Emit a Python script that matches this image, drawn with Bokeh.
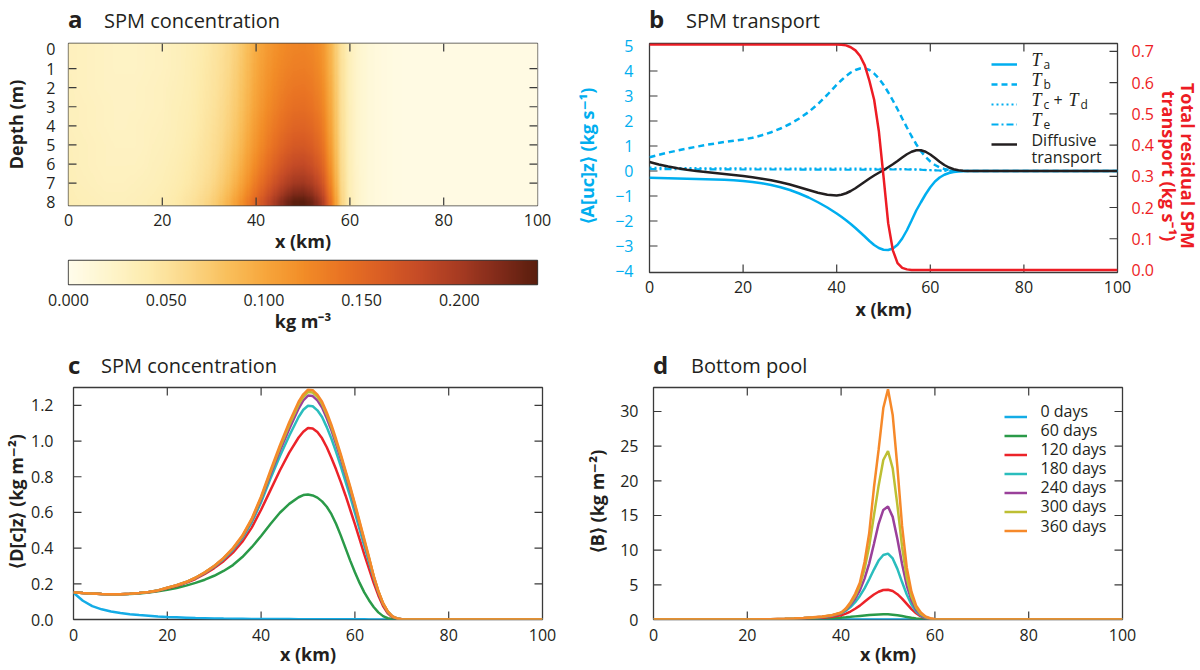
import numpy as np
from bokeh.plotting import figure
from bokeh.models import (LinearAxis, Range1d, FixedTicker, Label, Legend, LegendItem,
                          LinearColorMapper, NumeralTickFormatter, Div)
from bokeh.layouts import column, row
from bokeh.embed import file_html
from bokeh.resources import INLINE

# ---------------------------------------------------------------- data
# (a) SPM concentration field, kg m-3, rows = depth 0..8 m, columns = x 0..100 km step 2
heat_x = [0, 2, 4, 6, 8, 10, 12, 14, 16, 18, 20, 22, 24, 26, 28, 30, 32, 34, 36, 38, 40,
          42, 44, 46, 48, 50, 52, 54, 56, 58, 60, 62, 64, 66, 68, 70, 72, 74, 76, 78, 80,
          82, 84, 86, 88, 90, 92, 94, 96, 98, 100]
heat_depth = [0, 1, 2, 3, 4, 5, 6, 7, 8]
spm_d0 = [.030, .029, .028, .027, .026, .025, .025, .025, .026, .027, .028, .030, .032, .035, .039, .044,
          .050, .058, .068, .082, .097, .108, .117, .123, .127, .128, .125, .115, .088, .052, .030, .018,
          .012, .009, .007, .006, .005, .005, .005, .005, .005, .005, .005, .005, .005, .005, .005, .005,
          .005, .005, .005]
spm_d1 = [.030, .029, .028, .027, .026, .025, .025, .025, .026, .027, .028, .030, .032, .036, .040, .045,
          .051, .059, .070, .084, .099, .111, .120, .127, .131, .132, .129, .118, .090, .053, .030, .018,
          .012, .009, .007, .006, .005, .005, .005, .005, .005, .005, .005, .005, .005, .005, .005, .005,
          .005, .005, .005]
spm_d2 = [.031, .029, .028, .027, .026, .026, .026, .026, .027, .028, .029, .031, .033, .036, .041, .046,
          .052, .061, .072, .086, .102, .114, .124, .132, .137, .138, .134, .123, .093, .054, .030, .018,
          .012, .009, .007, .006, .005, .005, .005, .005, .005, .005, .005, .005, .005, .005, .005, .005,
          .005, .005, .005]
spm_d3 = [.031, .030, .029, .028, .027, .026, .026, .026, .027, .028, .029, .032, .034, .037, .042, .047,
          .054, .063, .074, .089, .105, .118, .129, .138, .144, .145, .140, .128, .096, .055, .031, .018,
          .012, .009, .007, .006, .005, .005, .005, .005, .005, .005, .005, .005, .005, .005, .005, .005,
          .005, .005, .005]
spm_d4 = [.031, .030, .029, .028, .027, .026, .026, .027, .028, .029, .030, .032, .035, .038, .043, .049,
          .056, .065, .077, .093, .110, .124, .136, .146, .153, .154, .149, .135, .100, .056, .031, .018,
          .012, .009, .007, .006, .005, .005, .005, .005, .005, .005, .005, .005, .005, .005, .005, .005,
          .005, .005, .005]
spm_d5 = [.032, .031, .030, .029, .028, .027, .027, .027, .028, .030, .031, .033, .036, .040, .045, .051,
          .058, .069, .081, .098, .115, .130, .144, .156, .164, .165, .159, .143, .105, .058, .031, .018,
          .012, .009, .007, .006, .005, .005, .005, .005, .005, .005, .005, .005, .005, .005, .005, .005,
          .005, .005, .005]
spm_d6 = [.033, .031, .030, .029, .028, .028, .028, .028, .029, .031, .032, .035, .038, .042, .047, .053,
          .062, .073, .087, .105, .123, .140, .156, .170, .179, .181, .173, .155, .112, .060, .032, .018,
          .012, .009, .007, .006, .005, .005, .005, .005, .005, .005, .005, .005, .005, .005, .005, .005,
          .005, .005, .005]
spm_d7 = [.034, .032, .031, .030, .029, .029, .029, .030, .031, .032, .034, .037, .040, .044, .050, .057,
          .067, .079, .095, .114, .135, .154, .173, .189, .201, .203, .194, .172, .122, .063, .033, .019,
          .012, .009, .007, .006, .005, .005, .005, .005, .005, .005, .005, .005, .005, .005, .005, .005,
          .005, .005, .005]
spm_d8 = [.036, .034, .033, .032, .031, .031, .031, .032, .033, .035, .037, .040, .044, .049, .056, .064,
          .075, .090, .108, .130, .153, .176, .200, .222, .238, .240, .228, .200, .138, .068, .034, .019,
          .012, .009, .007, .006, .005, .005, .005, .005, .005, .005, .005, .005, .005, .005, .005, .005,
          .005, .005, .005]
colorbar_ticks = [0.0, 0.05, 0.10, 0.15, 0.20]

# (b) SPM transport, kg s-1
xb = [0, 2, 4, 6, 8, 10, 12, 14, 16, 18, 20, 22, 24, 26, 28, 30, 32, 34, 36, 38, 40,
      41, 42, 43, 44, 45, 46, 47, 48, 49, 50, 51, 52, 53, 54, 55, 56, 57, 58, 59, 60,
      61, 62, 63, 64, 65, 66, 67, 68, 69, 70, 72, 75, 80, 85, 90, 95, 100]
T_a = [-0.27, -0.28, -0.29, -0.30, -0.31, -0.32, -0.33, -0.34, -0.35, -0.37, -0.40, -0.44, -0.49,
       -0.56, -0.65, -0.76, -0.90, -1.06, -1.25, -1.46, -1.70,
       -1.83, -1.97, -2.12, -2.28, -2.45, -2.62, -2.80, -2.96, -3.08, -3.15,
       -3.16, -3.10, -2.95, -2.70, -2.37, -1.98, -1.58, -1.25, -0.93, -0.65,
       -0.42, -0.26, -0.15, -0.08, -0.04, -0.02, -0.01, -0.004, 0.0, 0.0,
       0.0, 0.0, 0.0, 0.0, 0.0, 0.0, 0.0]
T_b = [0.55, 0.65, 0.74, 0.82, 0.90, 0.97, 1.04, 1.10, 1.16, 1.21, 1.26, 1.33, 1.43, 1.55, 1.70,
       1.88, 2.10, 2.36, 2.68, 3.05, 3.45,
       3.63, 3.80, 3.94, 4.04, 4.10, 4.10, 4.04, 3.90, 3.70, 3.45,
       3.15, 2.82, 2.47, 2.10, 1.74, 1.39, 1.07, 0.79, 0.56, 0.38,
       0.24, 0.14, 0.08, 0.04, 0.02, 0.01, 0.005, 0.0, 0.0, 0.0,
       0.0, 0.0, 0.0, 0.0, 0.0, 0.0, 0.0]
diffusive = [0.36, 0.26, 0.18, 0.11, 0.05, 0.00, -0.04, -0.08, -0.12, -0.16, -0.20, -0.25, -0.31,
             -0.37, -0.45, -0.54, -0.65, -0.76, -0.87, -0.95, -0.98,
             -0.95, -0.89, -0.80, -0.69, -0.56, -0.43, -0.30, -0.18, -0.07, 0.03,
             0.15, 0.27, 0.40, 0.54, 0.67, 0.77, 0.83, 0.83, 0.77, 0.66,
             0.52, 0.37, 0.24, 0.14, 0.07, 0.03, 0.01, 0.0, 0.0, 0.0,
             0.0, 0.0, 0.0, 0.0, 0.0, 0.0, 0.0]
total_transport = [0.722, 0.722, 0.722, 0.722, 0.722, 0.722, 0.722, 0.722, 0.722, 0.722, 0.722,
                   0.722, 0.722, 0.722, 0.722, 0.722, 0.722, 0.722, 0.722, 0.722, 0.722,
                   0.721, 0.719, 0.713, 0.703, 0.685, 0.655, 0.605, 0.545, 0.445, 0.300,
                   0.150, 0.063, 0.022, 0.007, 0.002, 0.0, 0.0, 0.0, 0.0, 0.0,
                   0.0, 0.0, 0.0, 0.0, 0.0, 0.0, 0.0, 0.0, 0.0, 0.0,
                   0.0, 0.0, 0.0, 0.0, 0.0, 0.0, 0.0]
x_small = [0, 10, 20, 30, 40, 45, 50, 55, 58, 60, 62, 64, 66, 70, 80, 100]
T_cd = [0.14, 0.12, 0.11, 0.10, 0.10, 0.10, 0.09, 0.08, 0.06, 0.04, 0.02, 0.01, 0.0, 0.0, 0.0, 0.0]
T_e = [0.08, 0.07, 0.06, 0.06, 0.05, 0.05, 0.06, 0.06, 0.05, 0.03, 0.02, 0.01, 0.0, 0.0, 0.0, 0.0]

# (c) depth-integrated SPM, kg m-2
xc = [0, 2, 4, 6, 8, 10, 12, 14, 16, 18, 20, 22, 24, 26, 28, 30, 32, 34, 36, 38, 40, 42, 44, 46, 48,
      49, 50, 51, 52, 53, 54, 55, 56, 57, 58, 59, 60, 61, 62, 63, 64, 65, 66, 67, 68, 69, 70,
      72, 75, 80, 90, 100]
conc_0 = [0.150, 0.105, 0.075, 0.057, 0.045, 0.037, 0.030, 0.025, 0.021, 0.017, 0.014, 0.012, 0.010,
          0.008, 0.007, 0.006, 0.005, 0.0045, 0.004, 0.0035, 0.003, 0.0028, 0.0025, 0.0023, 0.002,
          0.002, 0.002, 0.0019, 0.0018, 0.0017, 0.0016, 0.0015, 0.0014, 0.0013, 0.0012, 0.0011, 0.001,
          0.0009, 0.0008, 0.0007, 0.0006, 0.0005, 0.0004, 0.0003, 0.0002, 0.0001, 0.0,
          0.0, 0.0, 0.0, 0.0, 0.0]
conc_60 = [0.152, 0.148, 0.145, 0.143, 0.142, 0.142, 0.143, 0.146, 0.151, 0.158, 0.167, 0.177, 0.190,
           0.205, 0.223, 0.245, 0.272, 0.305, 0.350, 0.405, 0.468, 0.535, 0.598, 0.648, 0.685,
           0.697, 0.700, 0.695, 0.683, 0.662, 0.632, 0.590, 0.535, 0.470, 0.400, 0.330, 0.265,
           0.205, 0.152, 0.108, 0.070, 0.040, 0.019, 0.007, 0.002, 0.0, 0.0,
           0.0, 0.0, 0.0, 0.0, 0.0]
conc_120 = [0.152, 0.148, 0.145, 0.143, 0.142, 0.142, 0.144, 0.148, 0.153, 0.161, 0.175, 0.188, 0.205,
            0.227, 0.255, 0.288, 0.327, 0.375, 0.436, 0.515, 0.615, 0.725, 0.835, 0.935, 1.020,
            1.052, 1.073, 1.070, 1.050, 1.015, 0.965, 0.905, 0.840, 0.770, 0.695, 0.615, 0.535,
            0.450, 0.365, 0.285, 0.205, 0.135, 0.075, 0.035, 0.013, 0.004, 0.001,
            0.0, 0.0, 0.0, 0.0, 0.0]
conc_180 = [0.152, 0.148, 0.145, 0.143, 0.142, 0.142, 0.144, 0.148, 0.154, 0.162, 0.177, 0.191, 0.209,
            0.232, 0.261, 0.296, 0.338, 0.389, 0.455, 0.543, 0.657, 0.790, 0.915, 1.030, 1.135,
            1.175, 1.198, 1.195, 1.172, 1.135, 1.078, 1.013, 0.938, 0.858, 0.773, 0.688, 0.598,
            0.505, 0.413, 0.322, 0.232, 0.152, 0.087, 0.042, 0.016, 0.005, 0.001,
            0.0, 0.0, 0.0, 0.0, 0.0]
conc_240 = [0.152, 0.148, 0.145, 0.143, 0.142, 0.142, 0.144, 0.148, 0.154, 0.163, 0.178, 0.192, 0.210,
            0.233, 0.263, 0.299, 0.342, 0.395, 0.463, 0.554, 0.673, 0.812, 0.945, 1.068, 1.182,
            1.228, 1.255, 1.252, 1.228, 1.188, 1.128, 1.060, 0.982, 0.900, 0.812, 0.723, 0.630,
            0.533, 0.436, 0.340, 0.240, 0.156, 0.090, 0.044, 0.017, 0.006, 0.002,
            0.0, 0.0, 0.0, 0.0, 0.0]
conc_300 = [0.152, 0.148, 0.145, 0.143, 0.142, 0.142, 0.144, 0.148, 0.154, 0.163, 0.178, 0.192, 0.210,
            0.234, 0.264, 0.300, 0.344, 0.398, 0.467, 0.560, 0.682, 0.825, 0.962, 1.090, 1.205,
            1.248, 1.275, 1.272, 1.248, 1.208, 1.148, 1.078, 0.998, 0.915, 0.826, 0.736, 0.642,
            0.543, 0.444, 0.346, 0.243, 0.158, 0.091, 0.045, 0.018, 0.006, 0.002,
            0.0, 0.0, 0.0, 0.0, 0.0]
conc_360 = [0.152, 0.148, 0.145, 0.143, 0.142, 0.142, 0.144, 0.148, 0.154, 0.163, 0.178, 0.192, 0.210,
            0.234, 0.264, 0.300, 0.345, 0.400, 0.470, 0.565, 0.690, 0.835, 0.975, 1.105, 1.220,
            1.262, 1.288, 1.285, 1.260, 1.220, 1.160, 1.090, 1.010, 0.925, 0.835, 0.745, 0.650,
            0.550, 0.450, 0.350, 0.245, 0.160, 0.092, 0.045, 0.018, 0.006, 0.002,
            0.0, 0.0, 0.0, 0.0, 0.0]

# (d) bottom pool, kg m-2
xd = [0, 10, 20, 25, 28, 30, 32, 34, 36, 38, 40, 41, 42, 43, 44, 45, 46, 47, 48, 49, 50,
      51, 52, 53, 54, 55, 56, 57, 58, 59, 60, 62, 65, 70, 80, 90, 100]
pool_0 = [0.0] * 37
pool_60 = [0, 0, 0, 0.01, 0.02, 0.04, 0.06, 0.09, 0.13, 0.19, 0.27, 0.32, 0.38, 0.45, 0.52, 0.58,
           0.64, 0.69, 0.73, 0.75, 0.74, 0.70, 0.62, 0.50, 0.37, 0.24, 0.13, 0.06, 0.02, 0.005, 0,
           0, 0, 0, 0, 0, 0]
pool_120 = [0, 0, 0, 0.02, 0.05, 0.08, 0.12, 0.17, 0.25, 0.38, 0.60, 0.85, 1.15, 1.55, 2.0, 2.55,
            3.1, 3.6, 4.0, 4.25, 4.3, 4.1, 3.65, 3.0, 2.25, 1.5, 0.9, 0.45, 0.18, 0.06, 0.01,
            0, 0, 0, 0, 0, 0]
pool_180 = [0, 0, 0.01, 0.04, 0.08, 0.12, 0.18, 0.26, 0.37, 0.55, 0.9, 1.25, 1.8, 2.5, 3.4, 4.5,
            5.8, 7.2, 8.5, 9.3, 9.5, 8.8, 7.3, 5.4, 3.6, 2.15, 1.15, 0.55, 0.23, 0.08, 0.02,
            0, 0, 0, 0, 0, 0]
pool_240 = [0, 0, 0.01, 0.05, 0.1, 0.14, 0.2, 0.29, 0.4, 0.58, 0.94, 1.4, 2.1, 3.0, 4.2, 5.9,
            8.1, 10.9, 13.8, 15.8, 16.3, 14.8, 11.6, 8.0, 4.9, 2.8, 1.4, 0.65, 0.28, 0.1, 0.02,
            0, 0, 0, 0, 0, 0]
pool_300 = [0, 0, 0.01, 0.05, 0.1, 0.15, 0.21, 0.3, 0.41, 0.6, 0.97, 1.5, 2.3, 3.4, 4.9, 7.3,
            10.6, 15.0, 19.3, 23.0, 24.3, 21.8, 16.5, 10.5, 6.0, 3.3, 1.7, 0.8, 0.35, 0.12, 0.03,
            0, 0, 0, 0, 0, 0]
pool_360 = [0, 0, 0.01, 0.05, 0.1, 0.15, 0.22, 0.31, 0.42, 0.62, 1.0, 1.6, 2.5, 3.7, 5.3, 8.3,
            12.5, 19.0, 24.5, 30.5, 33.2, 29.5, 22.0, 13.5, 7.5, 4.0, 2.0, 1.0, 0.45, 0.18, 0.05,
            0, 0, 0, 0, 0, 0]

day_labels = ["0 days", "60 days", "120 days", "180 days", "240 days", "300 days", "360 days"]
day_colors = ["#14ACE6", "#2A9A48", "#EC2329", "#2ABDBD", "#9A409A", "#BDBF33", "#F6892A"]

# ---------------------------------------------------------------- styles
FONT = "Open Sans"
INK = "#231F20"
FRAME = "#3A3A3A"
CYAN = "#00AEEF"
RED = "#ED1C24"

cmap_stops = [(0.000, "#FFFCEA"), (0.020, "#FEF5CC"), (0.040, "#FDEBAD"), (0.060, "#FBD889"),
              (0.080, "#F9C15E"), (0.100, "#F7A73D"), (0.120, "#F28D27"), (0.140, "#E97323"),
              (0.160, "#DA5E24"), (0.180, "#C54B26"), (0.200, "#A73B22"), (0.220, "#822B1A"),
              (0.240, "#5A1E0E")]


def hex2rgb(h):
    return [int(h[i:i + 2], 16) for i in (1, 3, 5)]


sv = [s[0] for s in cmap_stops]
sc = [hex2rgb(s[1]) for s in cmap_stops]
palette = []
for v in np.linspace(0, 0.24, 256):
    rgb = [int(round(np.interp(v, sv, [c[k] for c in sc]))) for k in range(3)]
    palette.append("#%02x%02x%02x" % tuple(rgb))
mapper = LinearColorMapper(palette=palette, low=0.0, high=0.24)


def base_fig(**kw):
    p = figure(output_backend="svg", toolbar_location=None, **kw)
    p.grid.visible = False
    p.outline_line_color = FRAME
    p.outline_line_width = 1.3
    p.outline_line_alpha = 1.0
    p.background_fill_color = "white"
    p.border_fill_color = "white"
    return p


def style_axis(ax, label_color=INK, lab_size="18px"):
    ax.major_tick_line_color = None
    ax.minor_tick_line_color = None
    ax.axis_line_color = None
    ax.major_label_text_font = FONT
    ax.major_label_text_font_size = "16px"
    ax.major_label_text_color = label_color
    ax.axis_label_text_font = FONT
    ax.axis_label_text_font_size = lab_size
    ax.axis_label_text_font_style = "bold"
    ax.axis_label_text_color = label_color


def frame_ticks(p, xr, yr, fw, fh, xt=(), left=(), right=(), right_range=None, L=8):
    """Inward tick marks on the four sides, drawn from the tick lists."""
    kw = dict(line_color=FRAME, line_width=1.2)
    xt = list(xt)
    if xt:
        ly = L * (yr.end - yr.start) / fh
        n = len(xt)
        p.segment(x0=xt, y0=[yr.start] * n, x1=xt, y1=[yr.start + ly] * n, **kw)
        p.segment(x0=xt, y0=[yr.end] * n, x1=xt, y1=[yr.end - ly] * n, **kw)
    lx = L * (xr.end - xr.start) / fw
    left = list(left)
    if left:
        m = len(left)
        p.segment(x0=[xr.start] * m, y0=left, x1=[xr.start + lx] * m, y1=left, **kw)
    right = list(right)
    if right:
        m = len(right)
        extra = {} if right_range is None else {"y_range_name": right_range}
        p.segment(x0=[xr.end] * m, y0=right, x1=[xr.end - lx] * m, y1=right, **kw, **extra)


def add_text(p, x, y, text, size="16px", style="normal", color=INK, font=FONT,
             baseline="middle", align="left", angle=0.0):
    p.add_layout(Label(x=x, y=y, x_units="screen", y_units="screen", text=text,
                       text_font=font, text_font_size=size, text_font_style=style,
                       text_color=color, text_baseline=baseline, text_align=align, angle=angle))


def title_div(width, height, letter, letter_x, title, title_x, baseline):
    # line-height 1: baseline sits 0.888 em below the top of the line box for Open Sans
    lt = baseline - 0.888 * 24
    tt = baseline - 0.888 * 20
    html = ('<div style="position:relative;width:%dpx;height:%dpx;overflow:visible;">'
            '<span style="position:absolute;left:%dpx;top:%.1fpx;font-family:\'Open Sans\';'
            'font-weight:bold;font-size:24px;line-height:1;color:%s;white-space:nowrap;">%s</span>'
            '<span style="position:absolute;left:%dpx;top:%.1fpx;font-family:\'Open Sans\';'
            'font-weight:normal;font-size:20px;line-height:1;color:%s;white-space:nowrap;">%s</span>'
            '</div>') % (width, height, letter_x, lt, INK, letter, title_x, tt, INK, title)
    return Div(text=html, width=width, height=height, margin=0)


x_ticks = [0, 20, 40, 60, 80, 100]
inner_x = [20, 40, 60, 80]

# ---------------------------------------------------------------- panel a
FA_W, FA_H = 469, 162
fa = base_fig(frame_width=FA_W, frame_height=FA_H, min_border_left=68, min_border_right=31,
              min_border_top=8, min_border_bottom=51,
              x_range=Range1d(0, 100), y_range=Range1d(-8.17, 0.31))
# smooth display of the read grid (bilinear resampling, shading only)
grid = np.array([spm_d0, spm_d1, spm_d2, spm_d3, spm_d4, spm_d5, spm_d6, spm_d7, spm_d8])
x_fine = np.linspace(0, 100, 401)
d_fine = np.linspace(-0.4, 8.25, 174)
along_x = np.array([np.interp(x_fine, heat_x, r) for r in grid])
fine = np.array([np.interp(d_fine, heat_depth, along_x[:, j]) for j in range(len(x_fine))]).T
ddx = x_fine[1] - x_fine[0]
ddd = d_fine[1] - d_fine[0]
fa.image(image=[fine[::-1]], x=x_fine[0] - ddx / 2, y=-(d_fine[-1] + ddd / 2),
         dw=ddx * len(x_fine), dh=ddd * len(d_fine), color_mapper=mapper)
style_axis(fa.xaxis[0])
style_axis(fa.yaxis[0])
fa.xaxis.ticker = FixedTicker(ticks=x_ticks)
fa.yaxis.ticker = FixedTicker(ticks=[-d for d in heat_depth])
fa.yaxis.major_label_overrides = {-d: str(d) for d in heat_depth}
fa.xaxis.axis_label = "x (km)"
fa.yaxis.axis_label = "Depth (m)"
fa.xaxis.major_label_standoff = 2
fa.xaxis.axis_label_standoff = 0
fa.yaxis.major_label_standoff = 7
fa.yaxis.axis_label_standoff = 15
frame_ticks(fa, fa.x_range, fa.y_range, FA_W, FA_H, xt=inner_x,
            left=[-d for d in heat_depth[1:-1]], right=[-d for d in heat_depth[1:-1]])

# colour bar
fcb = base_fig(frame_width=469, frame_height=24, min_border_left=68, min_border_right=31,
               min_border_top=4, min_border_bottom=52,
               x_range=Range1d(0, 0.24), y_range=Range1d(0, 1), y_axis_location=None)
grad = np.linspace(0, 0.24, 480).reshape(1, -1)
fcb.image(image=[grad], x=0, y=0, dw=0.24, dh=1, color_mapper=mapper)
style_axis(fcb.xaxis[0])
fcb.xaxis.ticker = FixedTicker(ticks=colorbar_ticks)
fcb.xaxis.formatter = NumeralTickFormatter(format="0.000")
fcb.xaxis.axis_label = "kg m⁻³"
fcb.xaxis.major_label_standoff = 3
fcb.xaxis.axis_label_standoff = 0

title_a = title_div(568, 35, "a", 68, "SPM concentration", 104, 28.3)

# ---------------------------------------------------------------- panel b
FB_W, FB_H = 468, 229
fb = base_fig(frame_width=FB_W, frame_height=FB_H, min_border_left=81, min_border_right=31,
              min_border_top=8, min_border_bottom=64,
              x_range=Range1d(0, 100), y_range=Range1d(-4.06, 5.1))
fb.extra_y_ranges = {"total": Range1d(-0.008, 0.725)}
style_axis(fb.xaxis[0])
style_axis(fb.yaxis[0], label_color=CYAN)
fb.xaxis.ticker = FixedTicker(ticks=x_ticks)
fb.xaxis.axis_label = "x (km)"
fb.xaxis.major_label_standoff = 2
fb.xaxis.axis_label_standoff = 1
left_ticks = [-4, -3, -2, -1, 0, 1, 2, 3, 4, 5]
fb.yaxis.ticker = FixedTicker(ticks=left_ticks)
fb.yaxis.major_label_overrides = {t: (("−%d" % -t) if t < 0 else str(t)) for t in left_ticks}
fb.yaxis.axis_label = "⟨A[uc]z⟩ (kg s⁻¹)"
fb.yaxis.major_label_standoff = 10
fb.yaxis.axis_label_standoff = 13
right_ticks = [0.0, 0.1, 0.2, 0.3, 0.4, 0.5, 0.6, 0.7]
raxis = LinearAxis(y_range_name="total", ticker=FixedTicker(ticks=right_ticks),
                   formatter=NumeralTickFormatter(format="0.0"))
style_axis(raxis, label_color=RED)
raxis.major_label_standoff = 8
fb.add_layout(raxis, "right")
frame_ticks(fb, fb.x_range, fb.y_range, FB_W, FB_H, xt=inner_x, left=left_ticks[1:-1],
            right=right_ticks[1:], right_range="total")

r_a = fb.line(xb, T_a, color=CYAN, line_width=2.5)
r_b = fb.line(xb, T_b, color=CYAN, line_width=2.5, line_dash="6 4")
r_cd = fb.line(x_small, T_cd, color=CYAN, line_width=1.8, line_dash="2 3")
r_e = fb.line(x_small, T_e, color=CYAN, line_width=2.2, line_dash="7 3 2 3")
r_diff = fb.line(xb, diffusive, color=INK, line_width=2.5)
fb.line(xb, total_transport, color=RED, line_width=2.5, y_range_name="total")

leg_b = Legend(items=[LegendItem(label=" ", renderers=[r]) for r in (r_a, r_b, r_cd, r_e, r_diff)],
               location=(342, 118), glyph_width=26, glyph_height=20, label_height=20,
               label_width=1, label_standoff=0, spacing=0, padding=5, margin=0,
               border_line_color=None, background_fill_alpha=0.0,
               label_text_font_size="1px")
fb.add_layout(leg_b)
lx = 382
rows_y = [213 - 20 * i for i in range(5)]
for i, sub in [(0, "a"), (1, "b"), (3, "e")]:
    add_text(fb, lx, rows_y[i], "T", "18px", "italic", font="Liberation Serif")
    add_text(fb, lx + 12, rows_y[i] - 5, sub, "12px")
add_text(fb, lx, rows_y[2], "T", "18px", "italic", font="Liberation Serif")
add_text(fb, lx + 12, rows_y[2] - 5, "c", "12px")
add_text(fb, lx + 22, rows_y[2], "+", "16px")
add_text(fb, lx + 37, rows_y[2], "T", "18px", "italic", font="Liberation Serif")
add_text(fb, lx + 49, rows_y[2] - 5, "d", "12px")
add_text(fb, lx, rows_y[4], "Diffusive", "16px")
add_text(fb, lx, rows_y[4] - 17, "transport", "16px")

# right-hand axis title (two lines, reading downwards), in its own narrow panel
RS_W = 632 - (81 + FB_W + 31)
rstrip = figure(output_backend="svg", toolbar_location=None, frame_width=RS_W, frame_height=301,
                min_border=0, x_axis_location=None, y_axis_location=None,
                x_range=Range1d(0, RS_W), y_range=Range1d(0, 301))
rstrip.grid.visible = False
rstrip.outline_line_color = None
rstrip.border_fill_color = "white"
add_text(rstrip, 11, 178.5, "transport (kg s⁻¹)", "18px", "bold", color=RED,
         align="center", angle=-np.pi / 2)
add_text(rstrip, 30, 178.5, "Total residual SPM", "18px", "bold", color=RED,
         align="center", angle=-np.pi / 2)

title_b = title_div(632, 35, "b", 81, "SPM transport", 118, 28.3)

# ---------------------------------------------------------------- panel c
FC_W, FC_H = 469, 232
fc = base_fig(frame_width=FC_W, frame_height=FC_H, min_border_left=68, min_border_right=31,
              min_border_top=5, min_border_bottom=51,
              x_range=Range1d(0, 100), y_range=Range1d(0, 1.30))
style_axis(fc.xaxis[0])
style_axis(fc.yaxis[0])
fc.xaxis.ticker = FixedTicker(ticks=x_ticks)
c_ticks = [0.0, 0.2, 0.4, 0.6, 0.8, 1.0, 1.2]
fc.yaxis.ticker = FixedTicker(ticks=c_ticks)
fc.yaxis.formatter = NumeralTickFormatter(format="0.0")
fc.xaxis.axis_label = "x (km)"
fc.yaxis.axis_label = "⟨D[c]z⟩ (kg m⁻²)"
fc.xaxis.major_label_standoff = 3
fc.xaxis.axis_label_standoff = -2
fc.yaxis.major_label_standoff = 14
fc.yaxis.axis_label_standoff = 0
frame_ticks(fc, fc.x_range, fc.y_range, FC_W, FC_H, xt=inner_x, left=c_ticks[1:], right=c_ticks[1:])
for ys, col in zip([conc_0, conc_60, conc_120, conc_180, conc_240, conc_300, conc_360], day_colors):
    fc.line(xc, ys, color=col, line_width=2.5)

title_c = title_div(568, 46, "c", 68, "SPM concentration", 101, 38)

# ---------------------------------------------------------------- panel d
FD_W, FD_H = 469, 232
fd = base_fig(frame_width=FD_W, frame_height=FD_H, min_border_left=80, min_border_right=83,
              min_border_top=5, min_border_bottom=51,
              x_range=Range1d(0, 100), y_range=Range1d(0, 33.46))
style_axis(fd.xaxis[0])
style_axis(fd.yaxis[0])
fd.xaxis.ticker = FixedTicker(ticks=x_ticks)
d_ticks = [0, 5, 10, 15, 20, 25, 30]
fd.yaxis.ticker = FixedTicker(ticks=d_ticks)
fd.xaxis.axis_label = "x (km)"
fd.yaxis.axis_label = "⟨B⟩ (kg m⁻²)"
fd.xaxis.major_label_standoff = 3
fd.xaxis.axis_label_standoff = -2
fd.yaxis.major_label_standoff = 9
fd.yaxis.axis_label_standoff = 8
frame_ticks(fd, fd.x_range, fd.y_range, FD_W, FD_H, xt=inner_x, left=d_ticks[1:], right=d_ticks[1:])
d_rends = []
for ys, col in zip([pool_0, pool_60, pool_120, pool_180, pool_240, pool_300, pool_360], day_colors):
    d_rends.append(fd.line(xd, ys, color=col, line_width=2.5))
leg_d = Legend(items=[LegendItem(label=" ", renderers=[r]) for r in d_rends],
               location=(351, 79), glyph_width=23, glyph_height=19, label_height=19,
               label_width=1, label_standoff=0, spacing=0, padding=5, margin=0,
               border_line_color=None, background_fill_alpha=0.0,
               label_text_font_size="1px")
fd.add_layout(leg_d)
for i, lab in enumerate(day_labels):
    add_text(fd, 387, 208.3 - 19.05 * i, lab, "16px")

title_d = title_div(632, 46, "d", 80, "Bottom pool", 118, 38)

layout = column(row(column(title_a, fa, fcb), column(title_b, row(fb, rstrip))),
                row(column(title_c, fc), column(title_d, fd)))
open("out.html", "w").write(file_html(layout, INLINE))
